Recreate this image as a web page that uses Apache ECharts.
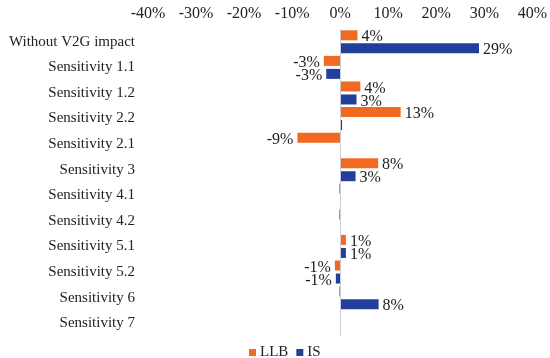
<!DOCTYPE html>
<html>
<head>
<meta charset="utf-8">
<script src="https://cdn.jsdelivr.net/npm/echarts@6/dist/echarts.min.js"></script>
<style>html,body{margin:0;padding:0;background:#fff}#c{width:550px;height:358px}</style>
</head>
<body>
<div id="c"></div>
<script>
const categories = ["Without V2G impact","Sensitivity 1.1","Sensitivity 1.2","Sensitivity 2.2","Sensitivity 2.1","Sensitivity 3","Sensitivity 4.1","Sensitivity 4.2","Sensitivity 5.1","Sensitivity 5.2","Sensitivity 6","Sensitivity 7"];
const llb = [3.6, -3.4, 4.2, 12.6, -8.9, 7.9, -0.2, -0.2, 1.2, -1.1, -0.2, 0];
const is = [28.9, -2.9, 3.4, 0.4, 0.1, 3.2, 0, 0, 1.2, -0.9, 8.0, 0];
const xTicks = [-40, -30, -20, -10, 0, 10, 20, 30, 40];

const serif = '"Liberation Serif", "Times New Roman", serif';
const labelCfg = {
  show: true,
  position: 'right',
  distance: 4,
  offset: [0, 2],
  fontFamily: serif,
  fontSize: 16,
  color: '#222',
  formatter: p => Math.abs(p.value) < 0.5 ? '' : Math.round(p.value) + '%'
};
function mk(vals) {
  return vals.map(v => ({
    value: v,
    label: v < 0 ? Object.assign({}, labelCfg, {position: 'left'}) : undefined
  }));
}
const chart = echarts.init(document.getElementById('c'), null, {renderer: 'canvas'});
chart.setOption({
  animation: false,
  grid: {left: 148, right: 17, top: 29, bottom: 22},
  legend: {
    data: ['LLB', 'IS'],
    left: 244, top: 340,
    itemWidth: 7, itemHeight: 7, itemGap: 8,
    icon: 'rect',
    textStyle: {fontFamily: serif, fontSize: 15, color: '#222', padding: [0, 0, 0, -1]}
  },
  xAxis: {
    type: 'value', position: 'top',
    min: xTicks[0], max: xTicks[xTicks.length - 1], interval: 10,
    axisLine: {show: false}, axisTick: {show: false}, splitLine: {show: false},
    axisLabel: {fontFamily: serif, fontSize: 16, color: '#222', margin: 7, formatter: v => v + '%'}
  },
  yAxis: {
    type: 'category', inverse: true, data: categories,
    axisLine: {show: false}, axisTick: {show: false},
    axisLabel: {fontFamily: serif, fontSize: 15, color: '#222', margin: 13}
  },
  series: [
    {
      name: 'LLB', type: 'bar', data: mk(llb), barWidth: 10, barGap: '30%',
      itemStyle: {color: '#F26A22'}, label: labelCfg,
      markLine: {
        silent: true, symbol: 'none', label: {show: false},
        lineStyle: {color: '#c9ccd6', width: 1, type: 'solid'},
        data: [{xAxis: 0}]
      }
    },
    {
      name: 'IS', type: 'bar', data: mk(is), barWidth: 10,
      itemStyle: {color: '#233F99'}, label: labelCfg
    }
  ]
});
</script>
</body>
</html>
